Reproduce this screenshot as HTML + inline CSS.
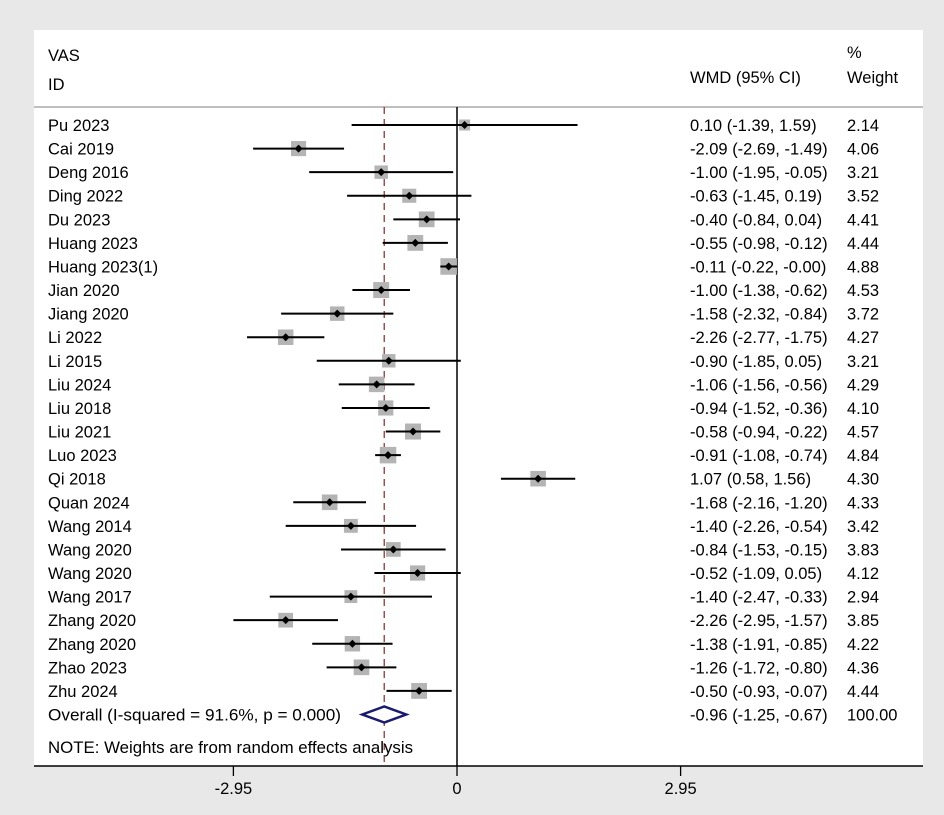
<!DOCTYPE html>
<html><head><meta charset="utf-8"><style>
body{margin:0;background:#e8e8e8;}
svg{display:block;font-family:"Liberation Sans",Arial,sans-serif;}
</style></head><body>
<svg id="chart" width="944" height="815">
<rect x="0" y="0" width="944" height="815" fill="#e8e8e8"/>
<rect x="34" y="30" width="889" height="736" fill="#fff"/>
<text x="48" y="61" font-size="16.5">VAS</text>
<text x="48" y="90" font-size="16.5">ID</text>
<text x="690" y="83" font-size="16.5">WMD (95% CI)</text>
<text x="847" y="58" font-size="16.5">%</text>
<text x="847" y="83" font-size="16.5">Weight</text>
<line x1="34" y1="107" x2="923" y2="107" stroke="#aaa" stroke-width="1.5"/>
<g id="marks"></g>
<line x1="34" y1="766" x2="923" y2="766" stroke="#000" stroke-width="1.5"/>
</svg>
<script>
const studies=["Pu 2023","Cai 2019","Deng 2016","Ding 2022","Du 2023","Huang 2023","Huang 2023(1)","Jian 2020","Jiang 2020","Li 2022","Li 2015","Liu 2024","Liu 2018","Liu 2021","Luo 2023","Qi 2018","Quan 2024","Wang 2014","Wang 2020","Wang 2020","Wang 2017","Zhang 2020","Zhang 2020","Zhao 2023","Zhu 2024"];
const est=[0.10,-2.09,-1.00,-0.63,-0.40,-0.55,-0.11,-1.00,-1.58,-2.26,-0.90,-1.06,-0.94,-0.58,-0.91,1.07,-1.68,-1.40,-0.84,-0.52,-1.40,-2.26,-1.38,-1.26,-0.50];
const lo=[-1.39,-2.69,-1.95,-1.45,-0.84,-0.98,-0.22,-1.38,-2.32,-2.77,-1.85,-1.56,-1.52,-0.94,-1.08,0.58,-2.16,-2.26,-1.53,-1.09,-2.47,-2.95,-1.91,-1.72,-0.93];
const hi=[1.59,-1.49,-0.05,0.19,0.04,-0.12,-0.00,-0.62,-0.84,-1.75,0.05,-0.56,-0.36,-0.22,-0.74,1.56,-1.20,-0.54,-0.15,0.05,-0.33,-1.57,-0.85,-0.80,-0.07];
const weights=[2.14,4.06,3.21,3.52,4.41,4.44,4.88,4.53,3.72,4.27,3.21,4.29,4.10,4.57,4.84,4.30,4.33,3.42,3.83,4.12,2.94,3.85,4.22,4.36,4.44];
const overall=[-0.96,-1.25,-0.67];
const ticks=[-2.95,0,2.95];
const tickLabels=["-2.95","0","2.95"];
const NS="http://www.w3.org/2000/svg";
const FS=16.5;
const g=document.getElementById('marks');
const svg=document.getElementById('chart');
const xs=v=>457+v*75.8;
const ys=i=>125+i*23.58;
const f=v=>(v===0&&1/v<0?"-0.00":v.toFixed(2));
function mk(t,a,p){const e=document.createElementNS(NS,t);for(const k in a)e.setAttribute(k,a[k]);(p||g).appendChild(e);return e;}
let z=mk('line',{x1:xs(0),y1:107,x2:xs(0),y2:766,stroke:'#000','stroke-width':1.5});


let d=mk('line',{x1:xs(overall[0]),y1:107,x2:xs(overall[0]),y2:766,stroke:'#8b3a3a','stroke-width':1.3,'stroke-dasharray':'7,5'});


studies.forEach((s,i)=>{
 const y=ys(i);
 let t=mk('text',{x:48,y:y+6,'font-size':FS});t.textContent=s;
 
 
 const side=7.5*Math.sqrt(weights[i]);
 let b=mk('rect',{x:xs(est[i])-side/2,y:y-side/2,width:side,height:side,fill:'#b4b4b4'});
 
 
 let l=mk('line',{x1:xs(lo[i]),y1:y,x2:xs(hi[i]),y2:y,stroke:'#000','stroke-width':2});
 
 
 const cx=xs(est[i]);
 let p=mk('polygon',{points:`${cx-4},${y} ${cx},${y-4} ${cx+4},${y} ${cx},${y+4}`,fill:'#000'});
 
 
 let w=mk('text',{x:690,y:y+6,'font-size':FS});w.textContent=`${f(est[i])} (${f(lo[i])}, ${f(hi[i])})`;
 
 
 let ww=mk('text',{x:847,y:y+6,'font-size':FS});ww.textContent=weights[i].toFixed(2);
 
 
});
const oy=ys(studies.length);
let ot=mk('text',{x:48,y:oy+6,'font-size':FS,textLength:293,lengthAdjust:'spacingAndGlyphs'});ot.textContent="Overall  (I-squared = 91.6%, p = 0.000)";


let dm=mk('polygon',{points:`${xs(overall[1])},${oy} ${xs(overall[0])},${oy-8} ${xs(overall[2])},${oy} ${xs(overall[0])},${oy+8}`,fill:'#fff',stroke:'#1a1a6e','stroke-width':2.5});


let ov=mk('text',{x:690,y:oy+6,'font-size':FS});ov.textContent=`${f(overall[0])} (${f(overall[1])}, ${f(overall[2])})`;


let ow=mk('text',{x:847,y:oy+6,'font-size':FS});ow.textContent="100.00";


let nt=mk('text',{x:48,y:753,'font-size':FS,textLength:365,lengthAdjust:'spacingAndGlyphs'});nt.textContent="NOTE: Weights are from random effects analysis";


ticks.forEach((v,i)=>{
 let tk=mk('line',{x1:xs(v),y1:766,x2:xs(v),y2:776,stroke:'#000','stroke-width':1.3},svg);
 
 
 let tl=mk('text',{x:xs(v),y:794,'font-size':FS,'text-anchor':'middle'},svg);tl.textContent=tickLabels[i];
 
 
});
</script>
</body></html>
